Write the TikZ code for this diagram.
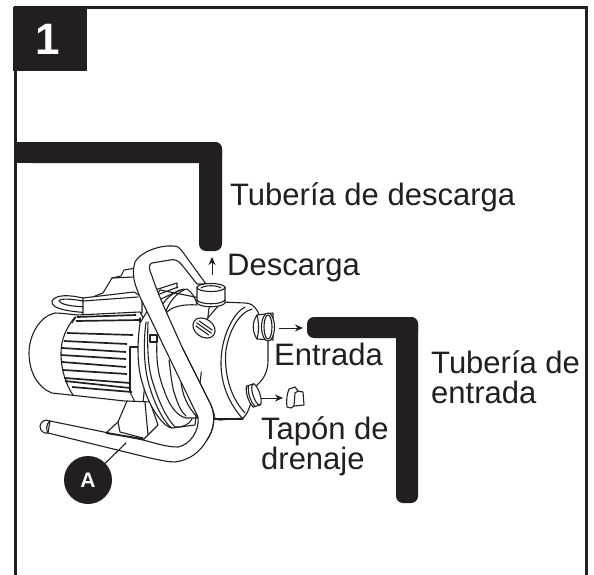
\documentclass[tikz,border=0pt]{standalone}
\usepackage{fontspec}
\setmainfont{Liberation Sans}
\usetikzlibrary{arrows.meta}
\definecolor{ink}{RGB}{35,31,32}
\tikzset{
  lab/.style={anchor=base west,inner sep=0pt,text=ink,font=\fontsize{31}{31}\selectfont},
  ln/.style={draw=ink,line width=1.1pt,line join=round,line cap=round},
  fin/.style={draw=ink,line width=1.7pt},
  fl/.style={ln,fill=white},
  arr/.style={draw=ink,line width=1pt,-{Stealth[length=8pt,width=7pt]}},
  pipefill/.style={fill=ink,rounded corners=7pt},
}
\begin{document}
\begin{tikzpicture}[x=1pt,y=-1pt]
\useasboundingbox (0,0) rectangle (594,575);
\fill[white] (0,0) rectangle (594,575);
% frame
\draw[ink,line width=3pt] (15,576) -- (15,8) -- (586,8) -- (586,576);
\node[fill=ink,minimum width=74pt,minimum height=64pt,inner sep=0pt,anchor=north west] (tab) at (13,7) {};
\node[text=white,font=\fontsize{44}{44}\selectfont\bfseries] (one) at (48,39) {1};
% pipes
\fill[ink] (15,142) rectangle (40,163);
\path[pipefill] (25,142) rectangle (222,163);
\path[pipefill] (199,142) rectangle (222,251);
\path[pipefill] (307,317) rectangle (418,338);
\path[pipefill] (396,317) rectangle (418,503);
% labels
\node[lab] (t1) at (230,205) {Tubería de descarga};
\node[lab] (t2) at (227,275) {Descarga};
\node[lab] (t3) at (274,365) {Entrada};
\node[lab] (t4) at (431,373) {Tubería de};
\node[lab] (t5) at (431,403) {entrada};
\node[lab] (t6) at (261,439) {Tapón de};
\node[lab] (t7) at (261,469) {drenaje};
% flow arrows
\coordinate (a1s) at (212,275); \coordinate (a1e) at (212,257);
\draw[arr] (a1s) -- (a1e);
\coordinate (a2s) at (279,328); \coordinate (a2e) at (303,328);
\draw[arr] (a2s) -- (a2e);
\coordinate (a3s) at (260,398); \coordinate (a3e) at (283,398);
\draw[arr] (a3s) -- (a3e);
% cord
\draw[fl] (83,298) .. controls (70,295) and (56,294) .. (52,301) .. controls (50,310) and (75,312) .. (92,313) .. controls (98,313) and (98,307) .. (93,307) .. controls (80,307) and (62,306) .. (59,301) .. controls (60,298) and (72,299) .. (83,301);
% junction box
\draw[fl] (103,293) -- (112,278) -- (121,276) -- (124,270) -- (136,268) -- (145,300) -- (85,300) -- cycle;
\draw[ln] (112,278) -- (134,277);
\draw[fl] (83,298) -- (134,292) -- (142,297) -- (142,313) -- (83,315) -- cycle;
\draw[ln] (83,301) -- (138,297);
% motor end cap
\draw[fl] (77,315) .. controls (68,314) and (60,313) .. (55,313) .. controls (40,316) and (29,335) .. (29,353) .. controls (29,372) and (38,388) .. (52,393) -- (143,403) -- (150,330) -- (140,312) -- cycle;
\draw[ln] (75,317) .. controls (66,328) and (61,340) .. (61,353) .. controls (61,370) and (66,385) .. (73,395);
% fins
\draw[fin] (77,317) -- (136,315);
\draw[fin] (76,321) -- (140,320);
\draw[ln] (72,323) -- (76,317);
\draw[fin] (67,333) -- (133,335);
\draw[fin] (64,341) -- (127,344);
\draw[fin] (62,348) -- (126,352);
\draw[fin] (61,355) -- (126,359);
\draw[fin] (62,362) -- (126,367);
\draw[fin] (63,370) -- (127,374);
\draw[fin] (65,378) -- (130,383);
\draw[fin] (65,381) -- (130,388);
\draw[fin] (72,387) -- (132,392);
\draw[ln] (130,347) -- (139,347);
\draw[ln] (130,347) -- (130,392);
\draw[ln] (130,392) -- (135,402);
\draw[ln] (140,318) -- (140,322) -- (144,322);
\draw[ln] (65,378) -- (67,383);
% foot bracket
\draw[fl] (127,401) -- (118,422) -- (106,433) -- (143,440) -- (158,425) -- (150,402) -- cycle;
\draw[ln] (118,422) -- (120,432) -- (143,438);
\draw[ln] (145,402) -- (148,435);
% housing rings
\draw[fl] (140,323) .. controls (137,345) and (137,368) .. (143,385) .. controls (150,410) and (165,428) .. (172,428) -- (195,425) -- (210,300) -- (160,290) -- cycle;
\draw[ln] (146,322) .. controls (143,345) and (144,370) .. (150,388) .. controls (156,408) and (166,425) .. (172,428);
\draw[ln] (148,322) .. controls (147,350) and (148,370) .. (154,386) .. controls (160,405) and (168,420) .. (175,427) .. controls (182,428) and (190,424) .. (192,419);
\draw[ln] (157,340) .. controls (156,360) and (158,375) .. (164,390) .. controls (170,408) and (178,416) .. (186,418) -- (198,418);
\draw[ln] (169,360) .. controls (171,375) and (172,388) .. (175,395) .. controls (178,405) and (182,413) .. (186,416);
\draw[ln] (181,383) .. controls (183,395) and (186,405) .. (198,418);
\draw[fl] (150,335) rectangle (157,342);
% fan ridges
\draw[ln] (155,290) -- (177,283) -- (177,288);
\draw[ln] (157,295) -- (178,287);
\draw[ln] (159,300) -- (180,290);
\draw[ln] (162,305) .. controls (168,296) and (176,291) .. (184,289);
\draw[ln] (166,311) .. controls (170,300) and (180,290) .. (187,289) .. controls (192,292) and (195,298) .. (197,304);
\draw[ln] (166,313) .. controls (172,306) and (185,304) .. (197,305);
% handle
\draw[fl] (50,421) -- (143,440) .. controls (155,443) and (166,447) .. (178,447) .. controls (190,445) and (200,430) .. (198,417) -- (140,297) .. controls (135,285) and (131,275) .. (135,262) .. controls (140,252) and (160,245) .. (173,246) .. controls (178,246) and (180,248) .. (182,251) -- (206,284) -- (197,284) -- (182,265) .. controls (178,260) and (174,259) .. (170,260) -- (152,263) .. controls (148,264) and (149,270) .. (152,276) .. controls (158,295) and (170,320) .. (182,347) -- (211,405) .. controls (216,416) and (214,430) .. (207,440) .. controls (200,452) and (190,460) .. (175,462) .. controls (168,462) and (160,460) .. (150,458) -- (48,433) -- cycle;
\draw[fl] (50,421) .. controls (45,419) and (41,421) .. (40,426) .. controls (40,431) and (44,434) .. (48,433) .. controls (46,430) and (46,424) .. (50,421) -- cycle;
\draw[line width=1.8pt,ink] (106,433) -- (143,439);
% pump body
\draw[fl] (220,420) -- (243,418) .. controls (250,413) and (252,395) .. (257,385) .. controls (265,378) and (268,370) .. (268,360) -- (268,342) -- (258,312) .. controls (254,305) and (250,303) .. (245,303) -- (222,302) .. controls (205,320) and (198,330) .. (195,345) -- (213,405) .. controls (214,410) and (215,415) .. (215,419) -- cycle;
\fill[white] (190,335) -- (212,405) -- (216,418) -- (216,350) -- (200,305) -- cycle;
\draw[ln] (211,405) .. controls (216,416) and (214,430) .. (207,440);
\draw[ln] (182,347) -- (211,405);
\draw[ln] (214,419) -- (243,419);
\draw[ln] (245,307) .. controls (235,312) and (225,330) .. (222,350) .. controls (219,370) and (222,395) .. (242,418);
\draw[ln] (252,309) .. controls (238,313) and (229,332) .. (226,350) .. controls (224,368) and (228,395) .. (245,413);
% oil cap
\begin{scope}[shift={(204,328)},rotate=-35]
\draw[fl] (0,0) ellipse (12pt and 9pt);
\draw[ln] (-8,-3) -- (8,-3);
\draw[ln] (-9,0) -- (9,0);
\draw[ln] (-8,3) -- (8,3);
\end{scope}
% discharge fitting
\draw[fl] (197,287) -- (197,303) .. controls (200,308) and (222,308) .. (225,303) -- (225,287) -- cycle;
\draw[ln] (197,300) .. controls (200,305) and (222,305) .. (225,300);
\draw[fl] (211,287.5) ellipse (14pt and 4pt);
\draw[ln] (201,288) .. controls (205,285) and (217,285) .. (221,288);
% inlet fitting
\draw[fl] (257,315) -- (273,313) -- (273,340) -- (257,339) .. controls (252,332) and (252,322) .. (257,315) -- cycle;
\draw[ln] (257,339) .. controls (259,332) and (259,322) .. (257,315);
\draw[fl] (268,327) ellipse (6.5pt and 14pt);
\draw[ln] (268,327) ellipse (4pt and 12pt);
% drain fitting
\begin{scope}[shift={(252,397)},rotate=18]
\draw[fl] (-2,-12) -- (6,-12) -- (6,10) -- (-2,10) .. controls (-5,4) and (-5,-6) .. (-2,-12) -- cycle;
\draw[fl] (5,-1) ellipse (3.5pt and 11pt);
\draw[ln] (0,-12) .. controls (-3,-4) and (-3,4) .. (0,10);
\end{scope}
% drain plug
\draw[fl] (289,389) -- (295,387) -- (298,391) -- (303,392) -- (304,405) -- (294,406) -- (291,408) -- (287,407) .. controls (286,401) and (287,394) .. (289,389) -- cycle;
\draw[ln] (295,393) -- (298,391);
\draw[ln] (295,393) -- (294,406);
% callout A
\node[fill=ink,circle,minimum size=48pt,inner sep=0pt,text=white,font=\fontsize{21}{21}\selectfont\bfseries] (A) at (88,480) {A};
\coordinate (Aend) at (126,443);
\draw[ln] (A) -- (Aend);
\end{tikzpicture}
\end{document}
